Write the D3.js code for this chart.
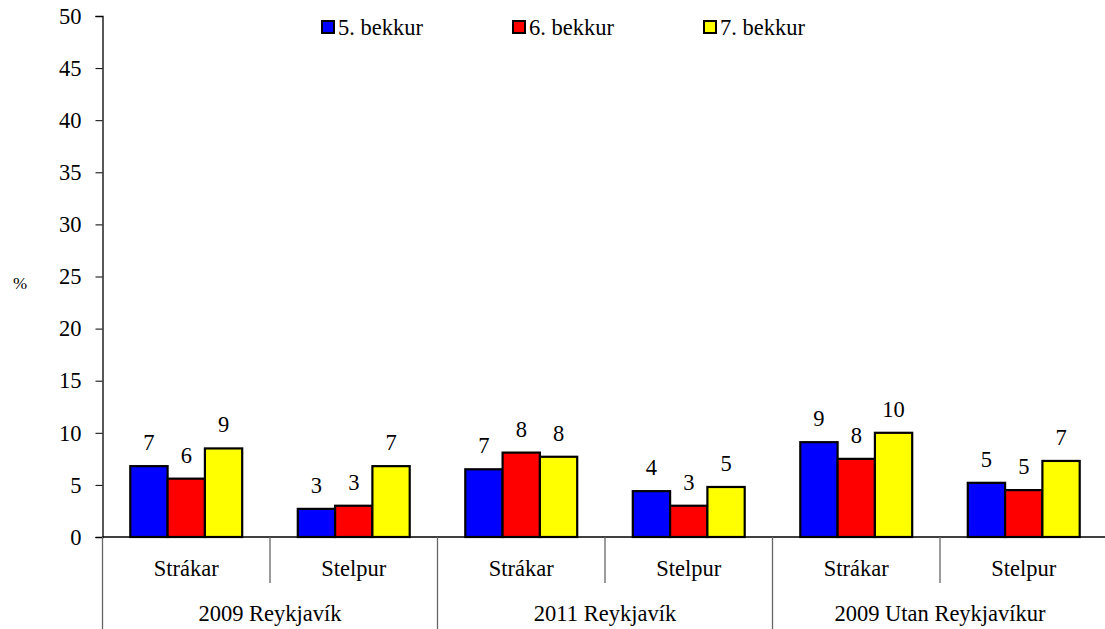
<!DOCTYPE html>
<html>
<head>
<meta charset="utf-8">
<script src="https://cdn.jsdelivr.net/npm/d3@7"></script>
<style>
  body { margin: 0; background: #fff; }
</style>
</head>
<body>
<div id="chart"></div>
<script>
// Chart data
const groups = ["2009 Reykjavík", "2011 Reykjavík", "2009 Utan Reykjavíkur"];
const genders = ["Strákar", "Stelpur"];
const series = ["5. bekkur", "6. bekkur", "7. bekkur"];
const values5 = [6.8, 2.7, 6.5, 4.4, 9.1, 5.2];
const values6 = [5.6, 3.0, 8.1, 3.0, 7.5, 4.5];
const values7 = [8.5, 6.8, 7.7, 4.8, 10.0, 7.3];
const yTicks = [0, 5, 10, 15, 20, 25, 30, 35, 40, 45, 50];
const colors = ["#0000ff", "#ff0000", "#ffff00"];

const FONT = "Liberation Serif, Times New Roman, serif";
const FS = 22.5;
const width = 1105, height = 629;
const plotLeft = 102.5, plotRight = 1107.5, plotTop = 16, zeroY = 537;

const svg = d3.select("#chart").append("svg")
    .attr("width", width)
    .attr("height", height)
    .attr("font-family", FONT);

// categories = group x gender
const cats = [];
groups.forEach((g, gi) => genders.forEach((s, si) => cats.push({key: gi + "_" + si, group: g, gender: s, idx: cats.length})));
const allValues = [values5, values6, values7];

const x = d3.scaleBand().domain(cats.map(d => d.key)).range([plotLeft, plotRight]).padding(0);
const xs = d3.scaleBand().domain(series).range([0, x.bandwidth()]).paddingInner(0).paddingOuter(0.745);
const y = d3.scaleLinear().domain([0, 50]).range([zeroY, plotTop]);

// y axis
const yAxis = svg.append("g")
    .attr("transform", `translate(${plotLeft},0)`)
    .call(d3.axisLeft(y).tickValues(yTicks).tickSize(7).tickPadding(14));
yAxis.attr("font-family", FONT).attr("font-size", FS);
yAxis.select(".domain").attr("stroke", "#000").attr("stroke-width", 1.3);
yAxis.selectAll(".tick line").attr("stroke", "#000");

svg.append("text")
    .attr("x", 20).attr("y", 289)
    .attr("text-anchor", "middle")
    .attr("font-size", 17)
    .text("%");

// bars
const barLayer = svg.append("g");
series.forEach((s, si) => {
    cats.forEach(c => {
        const v = allValues[si][c.idx];
        const bx = x(c.key) + xs(s);
        barLayer.append("rect")
            .attr("x", bx)
            .attr("y", y(v))
            .attr("width", xs.bandwidth())
            .attr("height", zeroY - y(v))
            .attr("fill", colors[si])
            .attr("stroke", "#000")
            .attr("stroke-width", 2.2);
        barLayer.append("text")
            .attr("x", bx + xs.bandwidth() / 2)
            .attr("y", y(v) - 16)
            .attr("text-anchor", "middle")
            .attr("font-size", FS)
            .text(d3.format(".0f")(v));
    });
});

// x axis line
svg.append("line")
    .attr("x1", plotLeft).attr("x2", width)
    .attr("y1", zeroY).attr("y2", zeroY)
    .attr("stroke", "#000").attr("stroke-width", 1.3);

// multi-level category axis
const axisG = svg.append("g");
cats.forEach(c => {
    const x0 = x(c.key);
    const isGroupStart = c.idx % genders.length === 0;
    axisG.append("line")
        .attr("x1", x0).attr("x2", x0)
        .attr("y1", zeroY).attr("y2", isGroupStart ? height : 583)
        .attr("stroke", "#666").attr("stroke-width", 1.3);
    axisG.append("text")
        .attr("x", x0 + x.bandwidth() / 2)
        .attr("y", 576)
        .attr("text-anchor", "middle")
        .attr("font-size", FS)
        .text(c.gender);
});
groups.forEach((g, gi) => {
    const x0 = x(gi + "_0");
    axisG.append("text")
        .attr("x", x0 + x.bandwidth())
        .attr("y", 621)
        .attr("text-anchor", "middle")
        .attr("font-size", FS)
        .text(g);
});

// legend
const legendX = [322, 513, 704];
const legend = svg.append("g");
series.forEach((s, i) => {
    legend.append("rect")
        .attr("x", legendX[i]).attr("y", 21)
        .attr("width", 12).attr("height", 12)
        .attr("fill", colors[i])
        .attr("stroke", "#000").attr("stroke-width", 2);
    legend.append("text")
        .attr("x", legendX[i] + 16).attr("y", 35)
        .attr("font-size", FS)
        .text(s);
});
</script>
</body>
</html>
